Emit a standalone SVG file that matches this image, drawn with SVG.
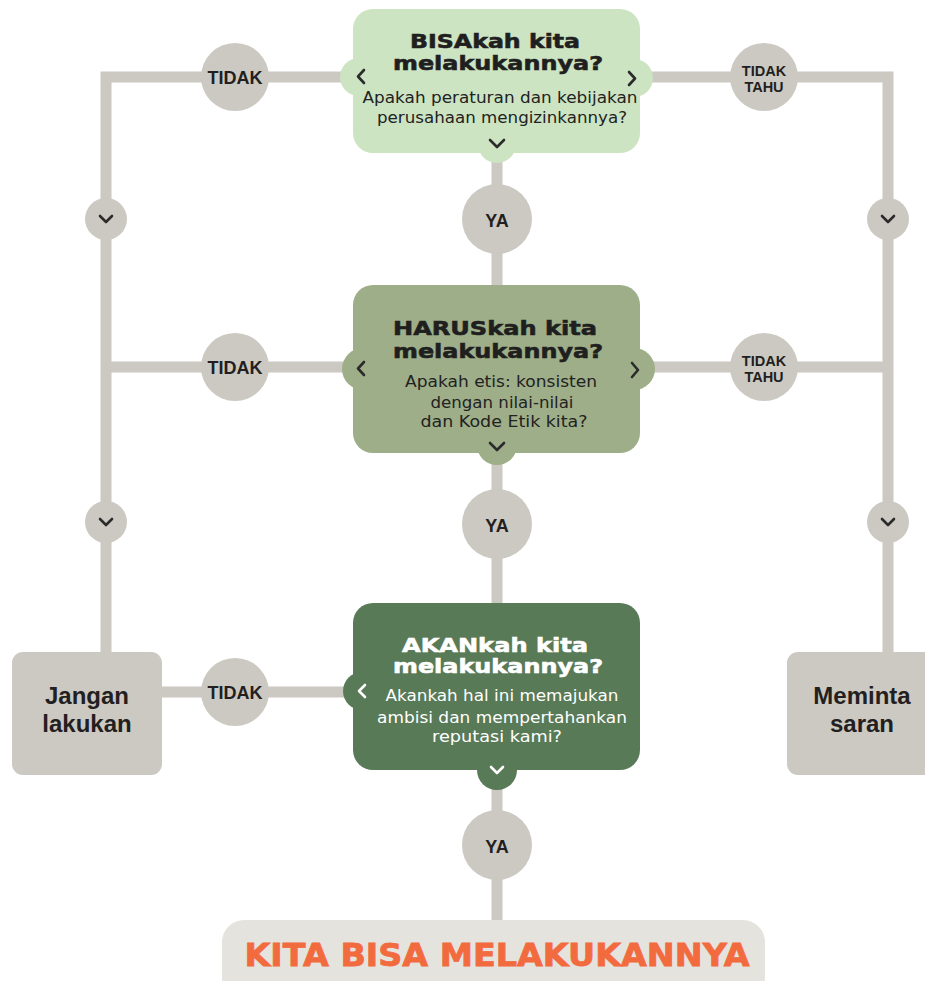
<svg xmlns="http://www.w3.org/2000/svg" width="925" height="981" viewBox="0 0 925 981">
<style>
.ln{fill:none;stroke:#ccc8c2;stroke-width:11;stroke-linejoin:miter}
.gc{fill:#ccc8c2}
.lbl{font-family:"Liberation Sans",Arial,sans-serif;font-weight:bold;fill:#231f20;text-anchor:middle}
.chev{fill:none;stroke:#2b2b2b;stroke-width:2.6;stroke-linecap:round;stroke-linejoin:round}
.chevw{fill:none;stroke:#ffffff;stroke-width:2.6;stroke-linecap:round;stroke-linejoin:round}
.ttl{font-family:"DejaVu Sans",sans-serif;font-weight:bold;font-size:19.5px;text-anchor:middle;stroke-width:0.6}
.sub{font-family:"DejaVu Sans",sans-serif;font-size:15.5px;text-anchor:middle}
.g1{fill:#cce4c2}.g2{fill:#9eae88}.g3{fill:#587a57}
</style>
<g id="connectors">
<path class="ln" d="M106,652 V77 H888 V652"/>
<path class="ln" d="M106,367 H888"/>
<path class="ln" d="M162,692 H360"/>
<path class="ln" d="M497,150 V925"/>
</g>
<g id="q1">
<rect class="g1" x="353" y="9" width="287" height="144" rx="20"/>
<circle class="g1" cx="359" cy="77" r="19"/>
<circle class="g1" cx="634" cy="78" r="19"/>
<circle class="g1" cx="497" cy="144" r="19"/>
<text class="ttl" x="495" y="48" fill="#1f1f1f" stroke="#1f1f1f" textLength="170" lengthAdjust="spacingAndGlyphs">BISAkah kita</text>
<text class="ttl" x="498" y="70" fill="#1f1f1f" stroke="#1f1f1f" textLength="210" lengthAdjust="spacingAndGlyphs">melakukannya?</text>
<text class="sub" x="500" y="103" fill="#222" textLength="275" lengthAdjust="spacingAndGlyphs">Apakah peraturan dan kebijakan</text>
<text class="sub" x="502" y="123" fill="#222" textLength="250" lengthAdjust="spacingAndGlyphs">perusahaan mengizinkannya?</text>
<path class="chev" d="M364,70 L358,76.5 L364,83"/>
<path class="chev" d="M629,72 L635,78.5 L629,85"/>
<path class="chev" d="M490,140 L497,147 L504,140"/>
</g>
<g id="q2">
<rect class="g2" x="353" y="285" width="287" height="168" rx="20"/>
<circle class="g2" cx="363" cy="369" r="21"/>
<circle class="g2" cx="634" cy="369" r="21"/>
<circle class="g2" cx="497" cy="445" r="20"/>
<text class="ttl" x="495" y="335" fill="#1f1f1f" stroke="#1f1f1f" textLength="204" lengthAdjust="spacingAndGlyphs">HARUSkah kita</text>
<text class="ttl" x="498" y="358" fill="#1f1f1f" stroke="#1f1f1f" textLength="210" lengthAdjust="spacingAndGlyphs">melakukannya?</text>
<text class="sub" x="501" y="387" fill="#222" textLength="192" lengthAdjust="spacingAndGlyphs">Apakah etis: konsisten</text>
<text class="sub" x="502" y="408" fill="#222" textLength="143" lengthAdjust="spacingAndGlyphs">dengan nilai-nilai</text>
<text class="sub" x="504" y="427" fill="#222" textLength="167" lengthAdjust="spacingAndGlyphs">dan Kode Etik kita?</text>
<path class="chev" d="M364,362 L358,368.5 L364,375"/>
<path class="chev" d="M632,363 L638,370 L632,377"/>
<path class="chev" d="M490,443 L497,450 L504,443"/>
</g>
<g id="q3">
<rect class="g3" x="353" y="603" width="287" height="167" rx="20"/>
<circle class="g3" cx="362" cy="691" r="19"/>
<circle class="g3" cx="497" cy="770" r="20"/>
<text class="ttl" x="495" y="652" fill="#ffffff" stroke="#ffffff" textLength="186" lengthAdjust="spacingAndGlyphs">AKANkah kita</text>
<text class="ttl" x="498" y="673" fill="#ffffff" stroke="#ffffff" textLength="210" lengthAdjust="spacingAndGlyphs">melakukannya?</text>
<text class="sub" x="502" y="701" fill="#ffffff" textLength="233" lengthAdjust="spacingAndGlyphs">Akankah hal ini memajukan</text>
<text class="sub" x="502" y="723" fill="#ffffff" textLength="250" lengthAdjust="spacingAndGlyphs">ambisi dan mempertahankan</text>
<text class="sub" x="497" y="742" fill="#ffffff" textLength="130" lengthAdjust="spacingAndGlyphs">reputasi kami?</text>
<path class="chevw" d="M365,685 L359,691 L365,697"/>
<path class="chevw" d="M491,767 L497,773 L503,767"/>
</g>
<g id="tidak1"><circle class="gc" cx="235" cy="77" r="34"/><text class="lbl" x="235" y="84" font-size="18">TIDAK</text></g>
<g id="tidaktahu1"><circle class="gc" cx="764" cy="77" r="34"/><text class="lbl" x="764" y="76" font-size="14.5">TIDAK</text><text class="lbl" x="764" y="92" font-size="14.5">TAHU</text></g>
<g id="ya1"><circle class="gc" cx="497" cy="219" r="35"/><text class="lbl" x="497" y="227" font-size="18">YA</text></g>
<g id="tidak2"><circle class="gc" cx="235" cy="367" r="34"/><text class="lbl" x="235" y="374" font-size="18">TIDAK</text></g>
<g id="tidaktahu2"><circle class="gc" cx="764" cy="367" r="34"/><text class="lbl" x="764" y="366" font-size="14.5">TIDAK</text><text class="lbl" x="764" y="382" font-size="14.5">TAHU</text></g>
<g id="ya2"><circle class="gc" cx="497" cy="524" r="35"/><text class="lbl" x="497" y="532" font-size="18">YA</text></g>
<g id="tidak3"><circle class="gc" cx="235" cy="692" r="34"/><text class="lbl" x="235" y="699" font-size="18">TIDAK</text></g>
<g id="ya3"><circle class="gc" cx="497" cy="845" r="35"/><text class="lbl" x="497" y="853" font-size="18">YA</text></g>
<g id="arrowL1"><circle class="gc" cx="106" cy="219" r="21"/><path class="chev" d="M100,216 L106,222 L112,216"/></g>
<g id="arrowR1"><circle class="gc" cx="888" cy="219" r="21"/><path class="chev" d="M882,216 L888,222 L894,216"/></g>
<g id="arrowL2"><circle class="gc" cx="106" cy="522" r="21"/><path class="chev" d="M100,519 L106,525 L112,519"/></g>
<g id="arrowR2"><circle class="gc" cx="888" cy="522" r="21"/><path class="chev" d="M882,519 L888,525 L894,519"/></g>
<g id="jangan"><rect class="gc" x="12" y="652" width="150" height="123" rx="11"/><text class="lbl" x="87" y="704" font-size="24">Jangan</text><text class="lbl" x="87" y="732" font-size="24">lakukan</text></g>
<g id="meminta"><rect class="gc" x="787" y="652" width="150" height="123" rx="11"/><text class="lbl" x="862" y="704" font-size="24">Meminta</text><text class="lbl" x="862" y="732" font-size="24">saran</text></g>
<g id="final"><rect x="222" y="920" width="543" height="80" rx="22" fill="#e5e3dd"/><text x="497" y="966" font-family="'DejaVu Sans',sans-serif" font-weight="bold" font-size="32" fill="#f26b3f" stroke="#f26b3f" stroke-width="0.8" text-anchor="middle" textLength="505" lengthAdjust="spacingAndGlyphs">KITA BISA MELAKUKANNYA</text></g>
</svg>
